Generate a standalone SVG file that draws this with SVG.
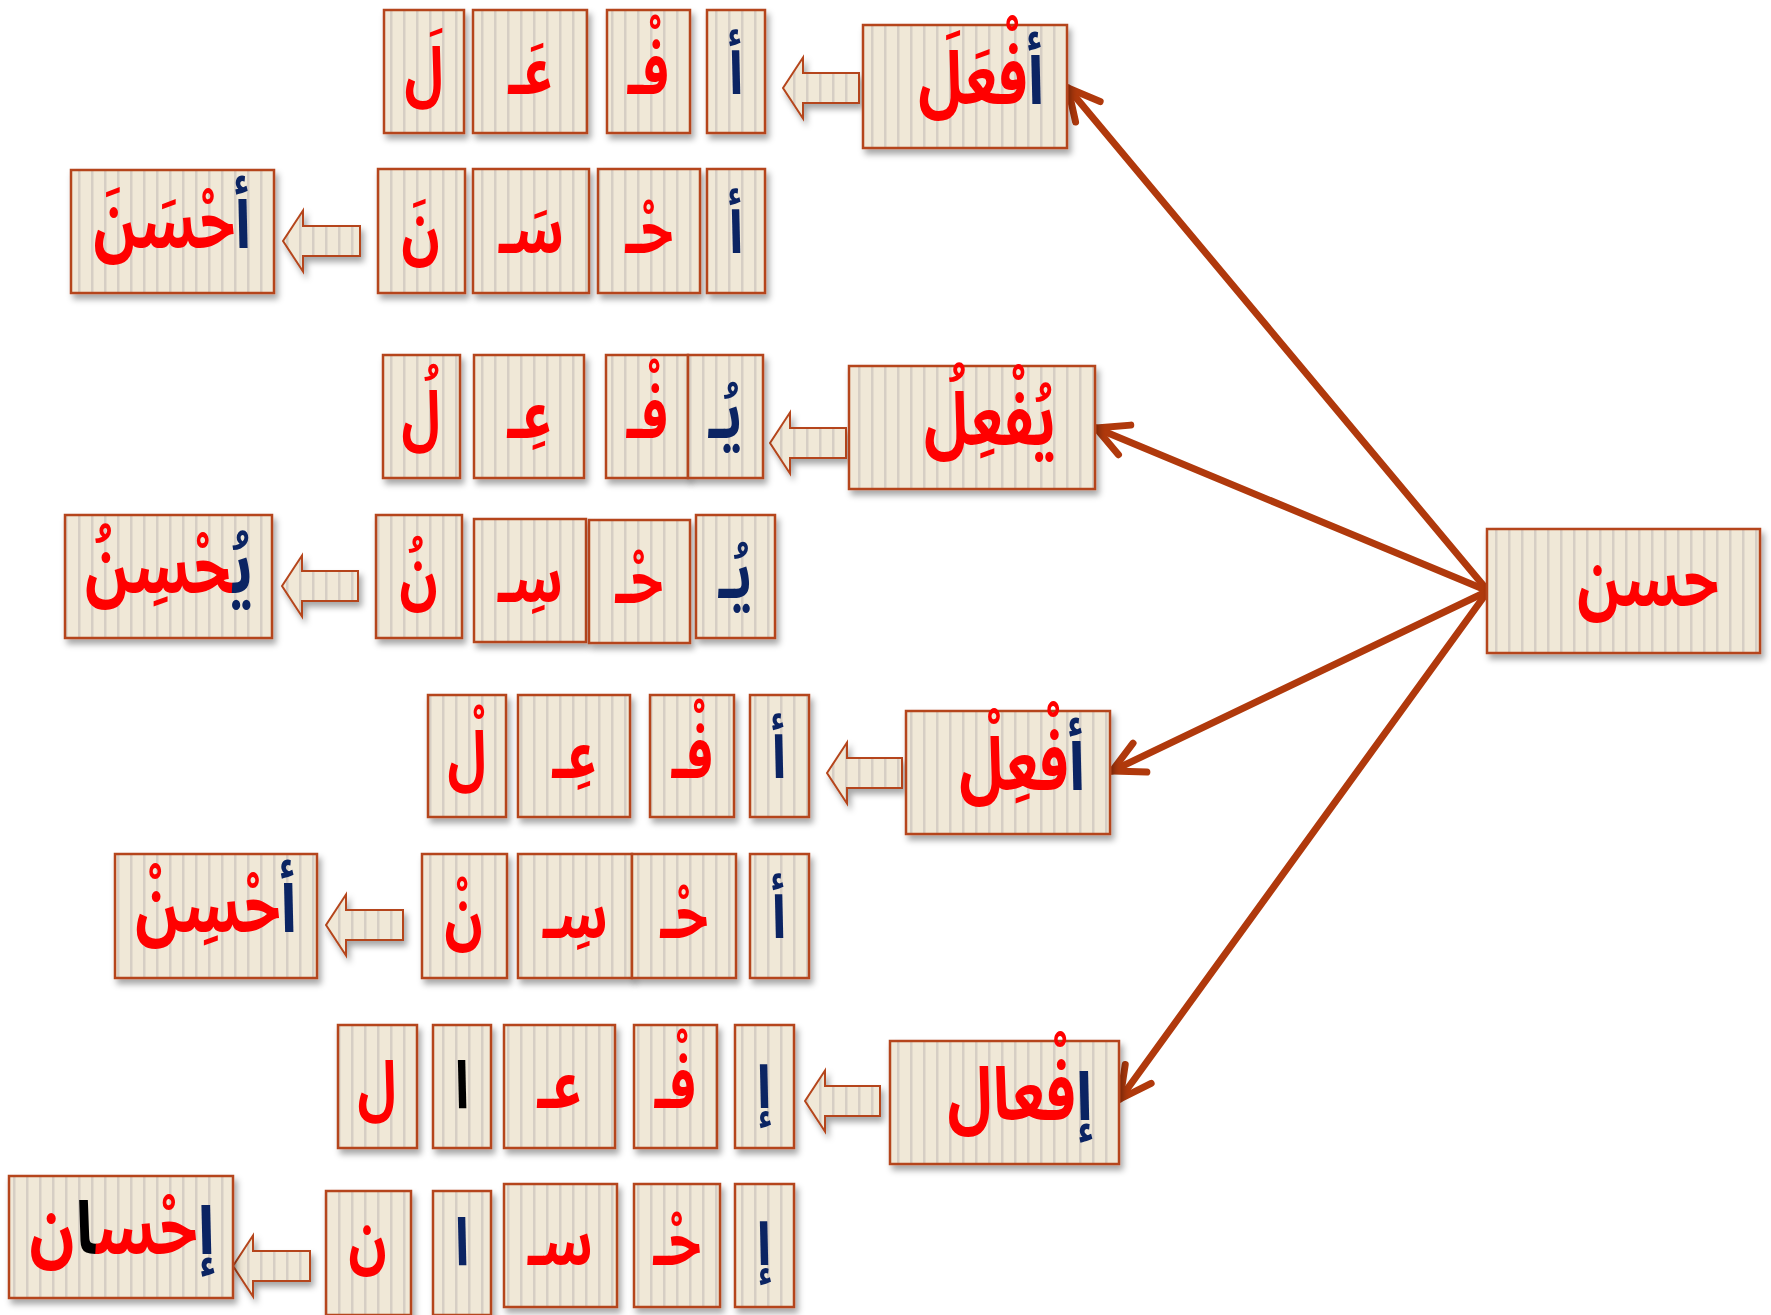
<svg xmlns="http://www.w3.org/2000/svg" width="1771" height="1315" viewBox="0 0 1771 1315">
<defs>
<pattern id="stripes" width="13" height="10" patternUnits="userSpaceOnUse">
<rect width="13" height="10" fill="#F0E8D7"/>
<rect x="0" width="2.5" height="10" fill="#D6CEC4"/>
</pattern>
<filter id="sh" x="-10%" y="-10%" width="130%" height="130%">
<feDropShadow dx="3" dy="5" stdDeviation="3" flood-color="#000" flood-opacity="0.35"/>
</filter>
<marker id="ah" markerUnits="userSpaceOnUse" markerWidth="60" markerHeight="60" viewBox="-45 -30 60 60" refX="0" refY="0" orient="auto">
<path d="M-31,-16 L0,0 L-31,16" fill="none" stroke="#B0390C" stroke-width="7" stroke-linecap="round" stroke-linejoin="round"/>
</marker>
<style>
.box{fill:url(#stripes);stroke:#B5451B;stroke-width:2.5;filter:url(#sh);}
.arr{fill:url(#stripes);stroke:#B5451B;stroke-width:2;filter:url(#sh);}
.t{font-family:"Noto Sans Arabic","Noto Naskh Arabic","DejaVu Sans",sans-serif;font-weight:bold;font-size:74px;fill:#FF0000;text-anchor:middle;}
.l{font-size:66px;}
.b{fill:#0B2463;}
.k{fill:#000000;}
.conn{stroke:#B0390C;stroke-width:7;fill:none;stroke-linecap:round;marker-end:url(#ah);}
</style>
</defs>
<rect width="1771" height="1315" fill="#FFFFFF"/>

<g id="connectors">
<line class="conn" x1="1488" y1="591" x2="1068" y2="88"/>
<line class="conn" x1="1488" y1="591" x2="1096" y2="428"/>
<line class="conn" x1="1488" y1="591" x2="1112" y2="771"/>
<line class="conn" x1="1488" y1="591" x2="1120" y2="1099"/>
</g>

<g id="arrows">
<polygon class="arr" points="783,88 803,57.5 803,73 859,73 859,103 803,103 803,118.5"/>
<polygon class="arr" points="283,241 303,210.5 303,226 360,226 360,256 303,256 303,271.5"/>
<polygon class="arr" points="770,443 790,412.5 790,428 846,428 846,458 790,458 790,473.5"/>
<polygon class="arr" points="282,586 302,555.5 302,571 358,571 358,601 302,601 302,616.5"/>
<polygon class="arr" points="827,773 847,742.5 847,758 902,758 902,788 847,788 847,803.5"/>
<polygon class="arr" points="326,925 346,894.5 346,910 403,910 403,940 346,940 346,955.5"/>
<polygon class="arr" points="805,1101 825,1070.5 825,1086 880,1086 880,1116 825,1116 825,1131.5"/>
<polygon class="arr" points="233,1266 253,1235.5 253,1251 310,1251 310,1281 253,1281 253,1296.5"/>
</g>

<g id="root-hasan">
<rect class="box" x="1487" y="529" width="273" height="124"/>
<text class="t" transform="translate(1648 606) scale(0.78 1)">حسن</text>
</g>

<g id="afal">
<rect class="box" x="863" y="25" width="204" height="123"/>
<text class="t" transform="translate(981 104) scale(0.8 1)"><tspan class="b">أ</tspan>فْعَلَ</text>
</g>
<g id="row1-letters">
<rect class="box" x="384" y="10" width="80" height="123"/><text class="t l" transform="translate(424 94) scale(0.8 1)">لَ</text>
<rect class="box" x="473" y="10" width="114" height="123"/><text class="t l" transform="translate(530 94) scale(0.8 1)">عَـ</text>
<rect class="box" x="607" y="10" width="83" height="123"/><text class="t l" transform="translate(648 94) scale(0.8 1)">فْـ</text>
<rect class="box" x="707" y="10" width="58" height="123"/><text class="t l b" transform="translate(736 94) scale(0.8 1)">أ</text>
</g>

<g id="ahsana">
<rect class="box" x="71" y="170" width="203" height="123"/>
<text class="t" transform="translate(172 248) scale(0.78 1)"><tspan class="b">أ</tspan>حْسَنَ</text>
</g>
<g id="row2-letters">
<rect class="box" x="378" y="169" width="87" height="124"/><text class="t l" transform="translate(421 253) scale(0.8 1)">نَ</text>
<rect class="box" x="473" y="169" width="116" height="124"/><text class="t l" transform="translate(531 253) scale(0.8 1)">سَـ</text>
<rect class="box" x="598" y="169" width="102" height="124"/><text class="t l" transform="translate(649 253) scale(0.8 1)">حْـ</text>
<rect class="box" x="707" y="169" width="58" height="124"/><text class="t l b" transform="translate(736 253) scale(0.8 1)">أ</text>
</g>

<g id="yufil">
<rect class="box" x="849" y="366" width="246" height="123"/>
<text class="t" transform="translate(990 445) scale(0.8 1)">يُفْعِلُ</text>
</g>
<g id="row3-letters">
<rect class="box" x="383" y="355" width="77" height="123"/><text class="t l" transform="translate(421 438) scale(0.8 1)">لُ</text>
<rect class="box" x="474" y="355" width="110" height="123"/><text class="t l" transform="translate(529 438) scale(0.8 1)">عِـ</text>
<rect class="box" x="606" y="355" width="82" height="123"/><text class="t l" transform="translate(647 438) scale(0.8 1)">فْـ</text>
<rect class="box" x="688" y="355" width="75" height="123"/><text class="t l b" transform="translate(725 438) scale(0.8 1)">يُـ</text>
</g>

<g id="yuhsinu">
<rect class="box" x="65" y="515" width="207" height="123"/>
<text class="t" transform="translate(169 593) scale(0.8 1)"><tspan class="b">يُ</tspan>حْسِنُ</text>
</g>
<g id="row4-letters">
<rect class="box" x="376" y="515" width="86" height="123"/><text class="t l" transform="translate(419 598) scale(0.8 1)">نُ</text>
<rect class="box" x="474" y="519" width="112" height="123"/><text class="t l" transform="translate(530 602) scale(0.8 1)">سِـ</text>
<rect class="box" x="589" y="520" width="101" height="123"/><text class="t l" transform="translate(639 603) scale(0.8 1)">حْـ</text>
<rect class="box" x="696" y="515" width="79" height="123"/><text class="t l b" transform="translate(735 598) scale(0.8 1)">يُـ</text>
</g>

<g id="afil">
<rect class="box" x="906" y="711" width="204" height="123"/>
<text class="t" transform="translate(1022 790) scale(0.8 1)"><tspan class="b">أ</tspan>فْعِلْ</text>
</g>
<g id="row5-letters">
<rect class="box" x="428" y="695" width="78" height="122"/><text class="t l" transform="translate(467 778) scale(0.8 1)">لْ</text>
<rect class="box" x="518" y="695" width="112" height="122"/><text class="t l" transform="translate(574 778) scale(0.8 1)">عِـ</text>
<rect class="box" x="650" y="695" width="84" height="122"/><text class="t l" transform="translate(692 778) scale(0.8 1)">فْـ</text>
<rect class="box" x="750" y="695" width="59" height="122"/><text class="t l b" transform="translate(779 778) scale(0.8 1)">أ</text>
</g>

<g id="ahsin">
<rect class="box" x="115" y="854" width="202" height="124"/>
<text class="t" transform="translate(216 932) scale(0.8 1)"><tspan class="b">أ</tspan>حْسِنْ</text>
</g>
<g id="row6-letters">
<rect class="box" x="422" y="854" width="85" height="124"/><text class="t l" transform="translate(464 938) scale(0.8 1)">نْ</text>
<rect class="box" x="518" y="854" width="114" height="124"/><text class="t l" transform="translate(575 938) scale(0.8 1)">سِـ</text>
<rect class="box" x="632" y="854" width="104" height="124"/><text class="t l" transform="translate(684 938) scale(0.8 1)">حْـ</text>
<rect class="box" x="750" y="854" width="59" height="124"/><text class="t l b" transform="translate(779 938) scale(0.8 1)">أ</text>
</g>

<g id="ifal">
<rect class="box" x="890" y="1041" width="229" height="123"/>
<text class="t" transform="translate(1020 1120) scale(0.82 1)"><tspan class="b">إ</tspan>فْعال</text>
</g>
<g id="row7-letters">
<rect class="box" x="338" y="1025" width="79" height="123"/><text class="t l" transform="translate(377 1108) scale(0.8 1)">ل</text>
<rect class="box" x="433" y="1025" width="58" height="123"/><text class="t l k" transform="translate(462 1108) scale(0.8 1)">ا</text>
<rect class="box" x="504" y="1025" width="111" height="123"/><text class="t l" transform="translate(559 1108) scale(0.8 1)">عـ</text>
<rect class="box" x="634" y="1025" width="83" height="123"/><text class="t l" transform="translate(675 1108) scale(0.8 1)">فْـ</text>
<rect class="box" x="735" y="1025" width="59" height="123"/><text class="t l b" transform="translate(764 1108) scale(0.8 1)">إ</text>
</g>

<g id="ihsan">
<rect class="box" x="9" y="1176" width="224" height="122"/>
<text class="t" transform="translate(122 1254) scale(0.84 1)"><tspan class="b">إ</tspan>حْس<tspan class="k">ا</tspan>ن</text>
</g>
<g id="row8-letters">
<rect class="box" x="326" y="1191" width="85" height="124"/><text class="t l" transform="translate(368 1262) scale(0.8 1)">ن</text>
<rect class="box" x="433" y="1191" width="58" height="124"/><text class="t l b" transform="translate(462 1265) scale(0.8 1)">ا</text>
<rect class="box" x="504" y="1184" width="113" height="123"/><text class="t l" transform="translate(560 1265) scale(0.8 1)">سـ</text>
<rect class="box" x="634" y="1184" width="86" height="123"/><text class="t l" transform="translate(677 1265) scale(0.8 1)">حْـ</text>
<rect class="box" x="735" y="1184" width="59" height="123"/><text class="t l b" transform="translate(764 1265) scale(0.8 1)">إ</text>
</g>
</svg>
